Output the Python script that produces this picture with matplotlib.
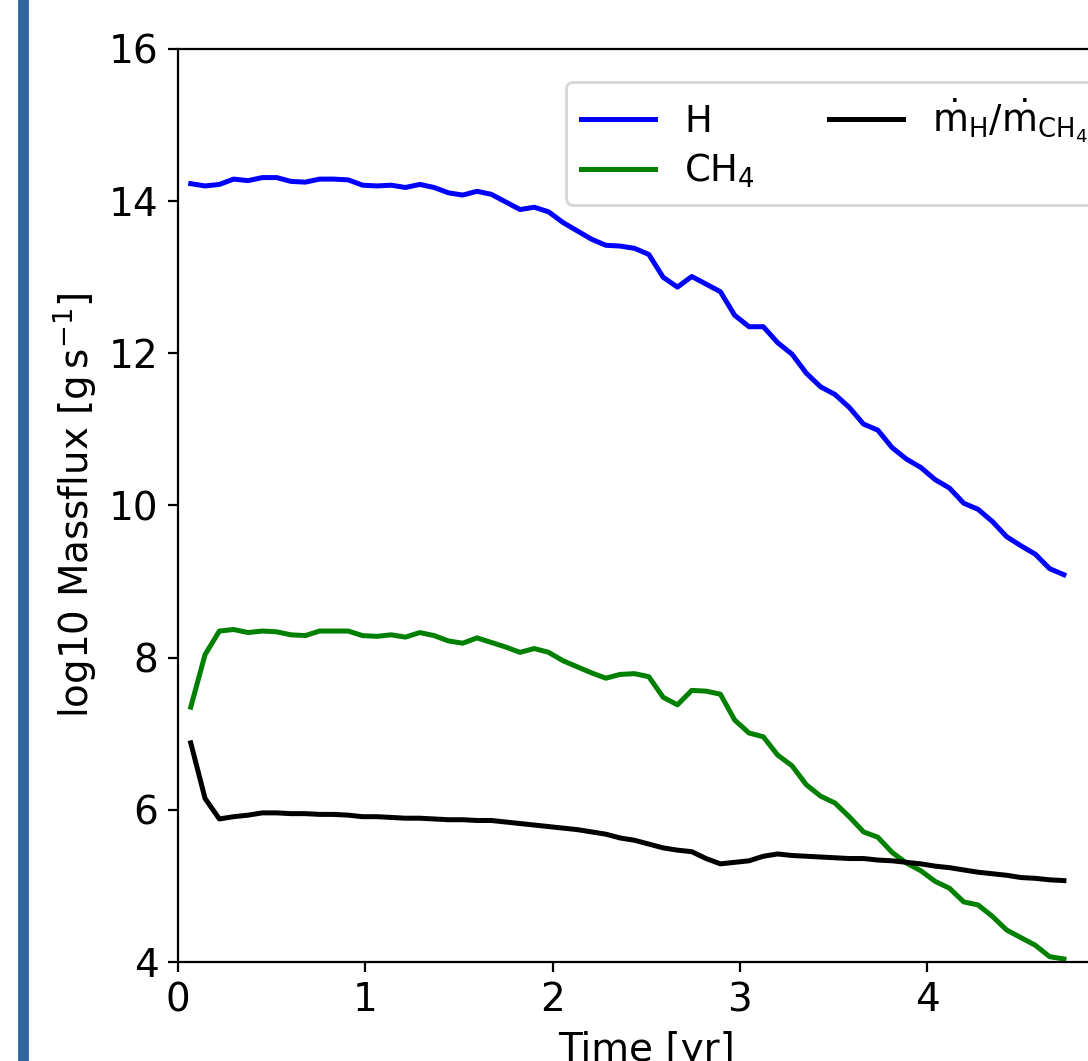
import numpy as np
import matplotlib
matplotlib.use("Agg")
import matplotlib.pyplot as plt
from matplotlib.patches import Rectangle

# time of the outputs [yr] (62 equally spaced snapshots)
time = np.linspace(0.068, 4.73, 62)

# log10 mass flux of H [g/s]
flux_h = [14.23, 14.20, 14.22, 14.29, 14.27, 14.31, 14.31, 14.26, 14.25, 14.29,
          14.29, 14.28, 14.21, 14.20, 14.21, 14.18, 14.22, 14.18, 14.11, 14.08,
          14.13, 14.09, 13.99, 13.89, 13.92, 13.86, 13.72, 13.61, 13.50, 13.42,
          13.41, 13.38, 13.30, 13.00, 12.87, 13.01, 12.91, 12.81, 12.50, 12.35,
          12.35, 12.14, 11.99, 11.74, 11.56, 11.46, 11.29, 11.07, 10.99, 10.76,
          10.61, 10.50, 10.34, 10.23, 10.03, 9.95, 9.79, 9.59, 9.47, 9.36,
          9.17, 9.09]

# log10 mass flux of CH4 [g/s]
flux_ch4 = [7.35, 8.04, 8.35, 8.37, 8.33, 8.35, 8.34, 8.30, 8.29, 8.35,
            8.35, 8.35, 8.29, 8.28, 8.30, 8.27, 8.33, 8.29, 8.22, 8.19,
            8.26, 8.20, 8.14, 8.07, 8.12, 8.07, 7.96, 7.88, 7.80, 7.73,
            7.78, 7.79, 7.75, 7.48, 7.38, 7.57, 7.56, 7.52, 7.18, 7.01,
            6.96, 6.72, 6.58, 6.33, 6.18, 6.09, 5.91, 5.71, 5.64, 5.44,
            5.30, 5.20, 5.06, 4.97, 4.79, 4.75, 4.60, 4.42, 4.32, 4.22,
            4.07, 4.04]

# log10 of the ratio mdot_H / mdot_CH4
ratio = [6.88, 6.15, 5.88, 5.91, 5.93, 5.96, 5.96, 5.95, 5.95, 5.94,
         5.94, 5.93, 5.91, 5.91, 5.90, 5.89, 5.89, 5.88, 5.87, 5.87,
         5.86, 5.86, 5.84, 5.82, 5.80, 5.78, 5.76, 5.74, 5.71, 5.68,
         5.63, 5.60, 5.55, 5.50, 5.47, 5.45, 5.36, 5.29, 5.31, 5.33,
         5.39, 5.42, 5.40, 5.39, 5.38, 5.37, 5.36, 5.36, 5.34, 5.33,
         5.31, 5.29, 5.26, 5.24, 5.21, 5.18, 5.16, 5.14, 5.11, 5.10,
         5.08, 5.07]

plt.rcParams['font.size'] = 14

fig = plt.figure(figsize=(5.44, 5.305), dpi=200)
ax = fig.add_axes([178 / 1088, 1 - 962 / 1061, (1114.5 - 178) / 1088, (962 - 49) / 1061])

ax.plot(time, flux_h, color='blue', lw=1.8, label='H')
ax.plot(time, flux_ch4, color='green', lw=1.8, label=r'CH$_4$')
ax.plot(time, ratio, color='black', lw=1.8,
        label=r'$\dot{\mathrm{m}}_{\mathrm{H}}/\dot{\mathrm{m}}_{\mathrm{CH_4}}$')

ax.set_xlim(0, 5)
ax.set_ylim(4, 16)
ax.set_xticks([0, 1, 2, 3, 4, 5])
ax.set_yticks([4, 6, 8, 10, 12, 14, 16])
ax.set_xlabel('Time [yr]')
ax.set_ylabel(r'log10 Massflux [$\mathrm{g\,s^{-1}}$]')

ax.legend(ncol=2, loc='upper left', bbox_to_anchor=(566 / 1088, 1 - 82 / 1061),
          bbox_transform=fig.transFigure, borderaxespad=0, labelspacing=0.3,
          fontsize=13.3)

# blue bar at the left edge of the page
fig.patches.append(Rectangle((19 / 1088, 0), 8 / 1088, 1, transform=fig.transFigure,
                             color='#2e64a0', zorder=0))

fig.savefig('out.png', dpi=200)
